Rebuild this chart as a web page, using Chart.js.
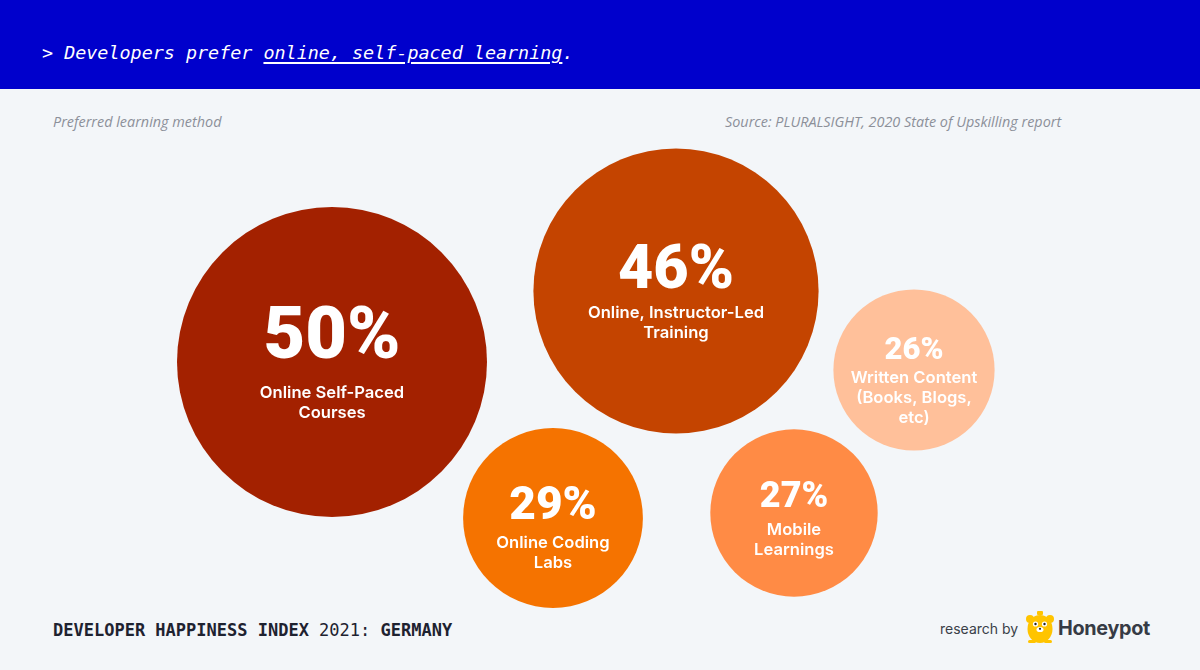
<!DOCTYPE html>
<html><head><meta charset="utf-8">
<script src="https://cdn.jsdelivr.net/npm/chart.js@4/dist/chart.umd.min.js"></script>
<style>
html,body{margin:0;padding:0;width:1200px;height:670px;overflow:hidden;background:#F3F6F9;font-family:Inter,"Noto Sans",sans-serif;}
#header{position:absolute;left:0;top:0;width:1200px;height:89px;background:#0000CC;}
#title{position:absolute;left:42px;top:42px;color:#fff;font-family:"DejaVu Sans Mono",monospace;font-style:italic;font-size:18.4px;white-space:pre;}
#title u{text-decoration-thickness:1.5px;text-underline-offset:3px;}
.sub{position:absolute;top:112px;color:#8C9099;font-style:italic;font-size:14.4px;font-family:"Open Sans",sans-serif;}
#foot{position:absolute;left:53px;top:620px;font-family:"DejaVu Sans Mono",monospace;font-size:17px;color:#1E2230;font-weight:bold;white-space:pre;}
#foot span{font-weight:normal;}
#by{position:absolute;left:940px;top:620px;font-size:14px;color:#3A3F48;}
#hp{position:absolute;left:1058px;top:616px;font-size:19.8px;font-weight:700;color:#363B45;letter-spacing:-0.3px;}
#bear{position:absolute;left:1025px;top:610px;}
#c{position:absolute;left:0;top:0;}
</style></head>
<body>
<div id="header"><div id="title">&gt; Developers prefer <u>online, self-paced learning</u>.</div></div>
<div class="sub" style="left:53px">Preferred learning method</div>
<div class="sub" style="left:725px">Source: PLURALSIGHT, 2020 State of Upskilling report</div>
<div id="foot">DEVELOPER HAPPINESS INDEX <span>2021:</span> GERMANY</div>
<div id="by">research by</div>
<svg id="bear" width="30" height="34" viewBox="0 0 30 34">
<rect x="12" y="1" width="6" height="4" rx="1" fill="#FFC400"/>
<circle cx="5" cy="9" r="4" fill="#FFC400"/><circle cx="25" cy="9" r="4" fill="#FFC400"/>
<ellipse cx="15" cy="19" rx="12.5" ry="14" fill="#FFC400"/>
<circle cx="10.5" cy="14" r="2.6" fill="#fff"/><circle cx="19.5" cy="14" r="2.6" fill="#fff"/>
<circle cx="10.5" cy="14" r="1.2" fill="#222"/><circle cx="19.5" cy="14" r="1.2" fill="#222"/>
<ellipse cx="15" cy="19.5" rx="3.5" ry="2.6" fill="#fff"/><circle cx="15" cy="18.8" r="1.1" fill="#222"/>
<rect x="3" y="30" width="8" height="3" rx="1.5" fill="#FFC400"/><rect x="19" y="30" width="8" height="3" rx="1.5" fill="#FFC400"/>
</svg>
<div id="hp">Honeypot</div>
<canvas id="c" width="1200" height="670"></canvas>
<script>
// Data
const methods = [
  ["Online Self-Paced", "Courses"],
  ["Online, Instructor-Led", "Training"],
  ["Online Coding", "Labs"],
  ["Mobile", "Learnings"],
  ["Written Content", "(Books, Blogs,", "etc)"]
];
const shares = [50, 46, 29, 27, 26];
// Layout (bubble centre placement in layout units)
const bubbleX = [332, 676, 553, 794, 914];
const bubbleY = [362, 291, 518, 513, 370];
const colors = ["#A32100", "#C44400", "#F57300", "#FF8B45", "#FFC09A"];
const RADIUS_PER_POINT = 3.1;
const numSize = [72, 61, 46, 36, 31];
const numBase = [-4, -3, 1, -6, -11];
const lblSize = 16.6;
const lblOff = [31, 22, 25, 17, 8];
const lblGap = 20;

const points = shares.map((v, i) => ({x: bubbleX[i], y: bubbleY[i], v}));

const labelPlugin = {
  id: 'bubbleLabels',
  afterDatasetsDraw(chart) {
    const ctx = chart.ctx;
    const meta = chart.getDatasetMeta(0);
    ctx.save();
    ctx.fillStyle = '#fff';
    ctx.textAlign = 'center';
    meta.data.forEach((el, i) => {
      ctx.textBaseline = 'alphabetic';
      ctx.font = `900 ${numSize[i]}px Roboto`;
      ctx.fillText(shares[i] + '%', el.x, el.y + numBase[i]);
      ctx.textBaseline = 'middle';
      ctx.font = `600 ${lblSize}px Inter`;
      methods[i].forEach((line, j) => {
        ctx.fillText(line, el.x, el.y + lblOff[i] + j * lblGap);
      });
    });
    ctx.restore();
  }
};

new Chart(document.getElementById('c'), {
  type: 'bubble',
  data: {
    datasets: [{
      data: points,
      backgroundColor: colors,
      borderWidth: 0,
      radius: ctx => ctx.raw.v * RADIUS_PER_POINT,
      hoverRadius: 0
    }]
  },
  options: {
    responsive: false,
    animation: false,
    events: [],
    layout: {padding: 0, autoPadding: false},
    plugins: {legend: {display: false}, tooltip: {enabled: false}},
    scales: {
      x: {type: 'linear', min: 0, max: 1200, display: false},
      y: {type: 'linear', min: 0, max: 670, reverse: true, display: false}
    }
  },
  plugins: [labelPlugin]
});
</script>
</body></html>
